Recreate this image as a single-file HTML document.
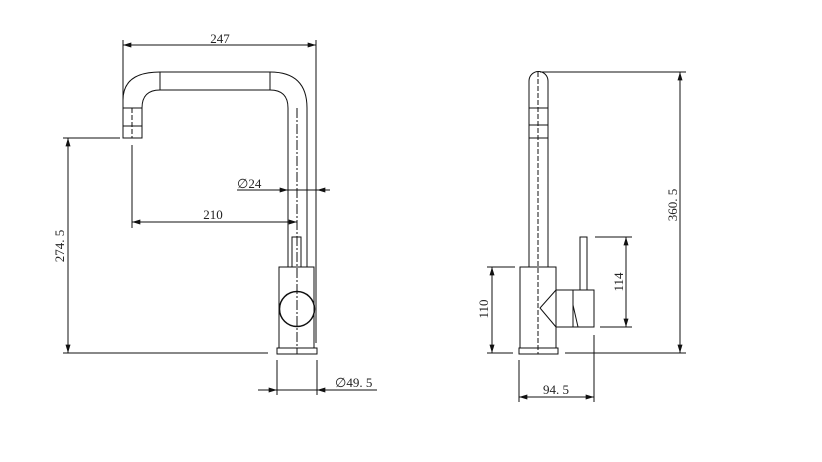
<!DOCTYPE html>
<html><head><meta charset="utf-8"><style>
html,body{margin:0;padding:0;background:#fff;}
svg{display:block;}
text{font-family:"Liberation Serif",serif;font-size:13px;fill:#222;}
</style></head><body>
<svg width="822" height="462" viewBox="0 0 822 462" xmlns="http://www.w3.org/2000/svg">
<defs>
<marker id="a" viewBox="0 0 10 6" refX="10" refY="3" markerWidth="14" markerHeight="5" orient="auto-start-reverse" markerUnits="userSpaceOnUse"><path d="M0,0 L10,3 L0,6 z" fill="#111"/></marker>
</defs>
<g stroke="#111" stroke-width="1" fill="none">
<!-- LEFT VIEW -->
<!-- 247 dim -->
<line x1="123" y1="40" x2="123" y2="100"/>
<line x1="316" y1="40" x2="316" y2="343"/>
<line x1="123" y1="45" x2="316" y2="45" marker-start="url(#a)" marker-end="url(#a)"/>
<!-- spout -->
<path d="M123,108 L123,100 Q123,72 160,72 L270,72 Q307,72 307,108 L307,267"/>
<path d="M142,108 Q142,90 160,90 L270,90 Q288,90 288,108 L288,267"/>
<line x1="160" y1="72" x2="160" y2="90"/>
<line x1="270" y1="72" x2="270" y2="90"/>
<rect x="123" y="108" width="19" height="30"/>
<line x1="123" y1="126" x2="142" y2="126"/>
<line x1="132" y1="108" x2="132" y2="138" stroke-dasharray="5,2"/>
<line x1="314" y1="267" x2="314" y2="343"/>
<line x1="297" y1="108" x2="297" y2="354" stroke-dasharray="10,2,2,2"/>
<!-- body -->
<rect x="279" y="267" width="35" height="81"/>
<rect x="277" y="348" width="40" height="6"/>
<rect x="292" y="237" width="9" height="30"/>
<circle cx="297" cy="309" r="17.5" stroke-width="1.5"/>
<!-- Ø24 -->
<line x1="237" y1="190" x2="327" y2="190"/>
<line x1="272" y1="190" x2="288" y2="190" marker-end="url(#a)"/>
<line x1="330" y1="190" x2="317" y2="190" marker-end="url(#a)"/>
<!-- 210 -->
<line x1="132" y1="145" x2="132" y2="228"/>
<line x1="132" y1="222" x2="297" y2="222" marker-start="url(#a)" marker-end="url(#a)"/>
<!-- 274.5 -->
<line x1="63" y1="138" x2="120" y2="138"/>
<line x1="63" y1="353" x2="268" y2="353"/>
<line x1="68" y1="138" x2="68" y2="353" marker-start="url(#a)" marker-end="url(#a)"/>
<!-- Ø49.5 -->
<line x1="277" y1="360" x2="277" y2="395"/>
<line x1="317" y1="360" x2="317" y2="395"/>
<line x1="258" y1="390" x2="377" y2="390"/>
<line x1="260" y1="390" x2="277" y2="390" marker-end="url(#a)"/>
<line x1="334" y1="390" x2="317" y2="390" marker-end="url(#a)"/>

<!-- RIGHT VIEW -->
<path d="M529,267 L529,81 A9.5,9.5 0 0 1 548,81 L548,267"/>
<line x1="529" y1="108" x2="548" y2="108"/>
<line x1="529" y1="125" x2="548" y2="125"/>
<line x1="529" y1="138" x2="548" y2="138"/>
<line x1="538" y1="72" x2="538" y2="354" stroke-dasharray="5,2"/>
<rect x="520" y="267" width="36" height="81"/>
<rect x="519" y="348" width="39" height="6"/>
<path d="M556,290 L540,308 L556,327"/>
<path d="M556,290 L573,290 L573,327 L556,327"/>
<path d="M573,305 L578,327"/>
<rect x="573" y="290" width="21" height="37"/>
<rect x="580" y="237" width="7" height="53"/>
<!-- 360.5 -->
<line x1="540" y1="72" x2="686" y2="72"/>
<line x1="565" y1="353" x2="686" y2="353"/>
<line x1="680" y1="72" x2="680" y2="353" marker-start="url(#a)" marker-end="url(#a)"/>
<!-- 114 -->
<line x1="595" y1="237" x2="632" y2="237"/>
<line x1="600" y1="327" x2="632" y2="327"/>
<line x1="626" y1="237" x2="626" y2="327" marker-start="url(#a)" marker-end="url(#a)"/>
<!-- 110 -->
<line x1="487" y1="267" x2="515" y2="267"/>
<line x1="487" y1="353" x2="513" y2="353"/>
<line x1="492" y1="267" x2="492" y2="353" marker-start="url(#a)" marker-end="url(#a)"/>
<!-- 94.5 -->
<line x1="519" y1="360" x2="519" y2="402"/>
<line x1="594" y1="335" x2="594" y2="402"/>
<line x1="519" y1="397" x2="594" y2="397" marker-start="url(#a)" marker-end="url(#a)"/>
</g>
<text x="220" y="43" text-anchor="middle">247</text>
<text x="213" y="219" text-anchor="middle">210</text>
<text x="237" y="188">∅24</text>
<text x="335" y="387">∅49. 5</text>
<text transform="translate(64,246) rotate(-90)" text-anchor="middle">274. 5</text>
<text transform="translate(677,205) rotate(-90)" text-anchor="middle">360. 5</text>
<text transform="translate(623,282) rotate(-90)" text-anchor="middle">114</text>
<text transform="translate(488,309) rotate(-90)" text-anchor="middle">110</text>
<text x="556" y="394" text-anchor="middle">94. 5</text>
</svg>
</body></html>
